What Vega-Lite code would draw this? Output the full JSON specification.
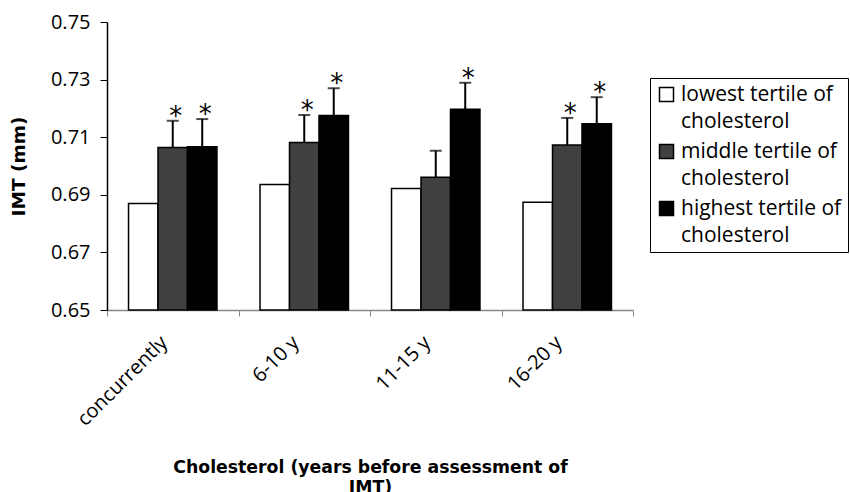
{
  "$schema": "https://vega.github.io/schema/vega-lite/v6.json",
  "width": 526,
  "height": 288,
  "autosize": {"type": "none"},
  "padding": {"left": 107, "top": 22, "right": 217, "bottom": 182},
  "background": "white",
  "config": {
    "view": {"stroke": null},
    "font": "Open Sans"
  },
  "data": {
    "values": [
      {"period": "concurrently", "tertile": "lowest tertile of cholesterol", "imt": 0.6870, "upper": null, "sig": ""},
      {"period": "concurrently", "tertile": "middle tertile of cholesterol", "imt": 0.7064, "upper": 0.7157, "sig": "*"},
      {"period": "concurrently", "tertile": "highest tertile of cholesterol", "imt": 0.7067, "upper": 0.7163, "sig": "*"},
      {"period": "6-10 y", "tertile": "lowest tertile of cholesterol", "imt": 0.6936, "upper": null, "sig": ""},
      {"period": "6-10 y", "tertile": "middle tertile of cholesterol", "imt": 0.7082, "upper": 0.7177, "sig": "*"},
      {"period": "6-10 y", "tertile": "highest tertile of cholesterol", "imt": 0.7175, "upper": 0.7270, "sig": "*"},
      {"period": "11-15 y", "tertile": "lowest tertile of cholesterol", "imt": 0.6922, "upper": null, "sig": ""},
      {"period": "11-15 y", "tertile": "middle tertile of cholesterol", "imt": 0.6961, "upper": 0.7053, "sig": ""},
      {"period": "11-15 y", "tertile": "highest tertile of cholesterol", "imt": 0.7197, "upper": 0.7289, "sig": "*"},
      {"period": "16-20 y", "tertile": "lowest tertile of cholesterol", "imt": 0.6874, "upper": null, "sig": ""},
      {"period": "16-20 y", "tertile": "middle tertile of cholesterol", "imt": 0.7073, "upper": 0.7167, "sig": "*"},
      {"period": "16-20 y", "tertile": "highest tertile of cholesterol", "imt": 0.7147, "upper": 0.7239, "sig": "*"}
    ]
  },
  "encoding": {
    "x": {
      "field": "period",
      "type": "nominal",
      "sort": ["concurrently", "6-10 y", "11-15 y", "16-20 y"],
      "scale": {"paddingInner": 0, "paddingOuter": 0},
      "axis": {
        "title": ["Cholesterol (years before assessment of", "IMT)"],
        "titleFont": "DejaVu Sans",
        "titleFontWeight": "bold",
        "titleFontSize": 17.3,
        "titleColor": "black",
        "titleY": 162,
        "titleBaseline": "alphabetic",
        "titleLineHeight": 20,
        "labelAngle": -45,
        "labelFontSize": 20,
        "labelColor": "black",
        "labelPadding": 16,
        "labelOffset": -16,
        "tickBand": "extent",
        "tickSize": 6,
        "tickColor": "#888888",
        "domainColor": "#888888",
        "domainWidth": 1.5,
        "grid": false
      }
    },
    "xOffset": {
      "field": "tertile",
      "type": "nominal",
      "sort": ["lowest tertile of cholesterol", "middle tertile of cholesterol", "highest tertile of cholesterol"],
      "scale": {"paddingInner": 0, "paddingOuter": 0.73}
    }
  },
  "layer": [
    {
      "mark": {"type": "bar", "stroke": "black", "strokeWidth": 1.5},
      "encoding": {
        "y": {
          "field": "imt",
          "type": "quantitative",
          "scale": {"domain": [0.65, 0.75], "nice": false, "zero": false},
          "axis": {
            "title": "IMT (mm)",
            "titleFont": "DejaVu Sans",
            "titleFontWeight": "bold",
            "titleFontSize": 18.5,
            "titleColor": "black",
            "titlePadding": 22,
            "values": [0.65, 0.67, 0.69, 0.71, 0.73, 0.75],
            "format": ".2f",
            "labelFontSize": 20,
            "labelColor": "black",
            "labelPadding": 10,
            "tickSize": 7,
            "tickColor": "black",
            "domainColor": "black",
            "domainWidth": 1.5,
            "grid": false
          }
        },
        "y2": {"datum": 0.65},
        "color": {
          "field": "tertile",
          "type": "nominal",
          "sort": ["lowest tertile of cholesterol", "middle tertile of cholesterol", "highest tertile of cholesterol"],
          "scale": {"range": ["#ffffff", "#404040", "#000000"]},
          "legend": {
            "title": null,
            "orient": "none",
            "legendX": 543,
            "legendY": 56,
            "strokeColor": "black",
            "fillColor": "white",
            "padding": 6,
            "symbolType": "square",
            "symbolSize": 196,
            "symbolStrokeColor": "black",
            "symbolStrokeWidth": 1.5,
            "labelFontSize": 21,
            "labelColor": "black",
            "labelLimit": 300,
            "labelOffset": 4,
            "rowPadding": 8,
            "labelExpr": "[replace(datum.label, ' cholesterol', ''), 'cholesterol']",
            "encode": {
              "labels": {"update": {"lineHeight": {"value": 27}}}
            }
          }
        }
      }
    },
    {
      "transform": [{"filter": "datum.upper != null"}],
      "mark": {"type": "rule", "color": "black", "strokeWidth": 2},
      "encoding": {
        "y": {"field": "imt", "type": "quantitative"},
        "y2": {"field": "upper"}
      }
    },
    {
      "transform": [{"filter": "datum.upper != null"}],
      "mark": {"type": "tick", "color": "black", "thickness": 2, "size": 12, "orient": "horizontal"},
      "encoding": {
        "y": {"field": "upper", "type": "quantitative"}
      }
    },
    {
      "transform": [{"filter": "datum.sig != ''"}],
      "mark": {"type": "text", "font": "DejaVu Sans", "fontSize": 26, "color": "black", "baseline": "alphabetic", "dy": 4, "dx": 3},
      "encoding": {
        "y": {"field": "upper", "type": "quantitative"},
        "text": {"field": "sig"}
      }
    }
  ]
}
